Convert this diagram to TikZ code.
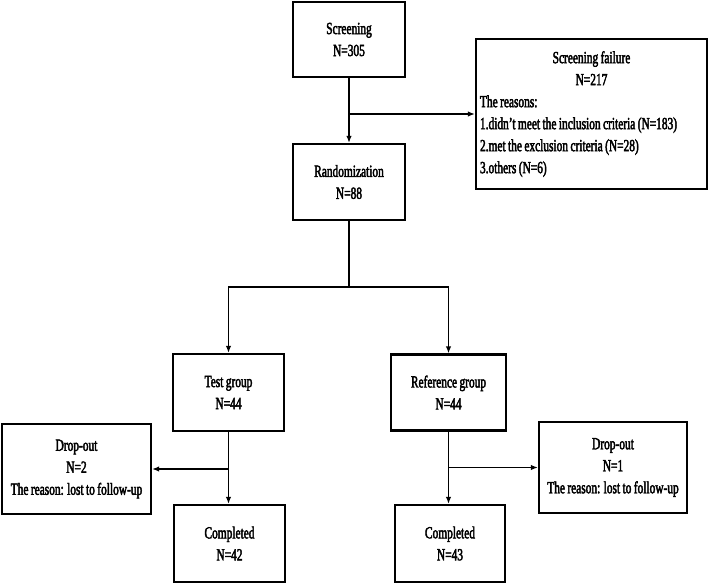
\documentclass[tikz,border=0pt]{standalone}
\usepackage{fontspec}
\setmainfont{Liberation Serif}[FakeStretch=0.67, FakeBold=2.5, WordSpace=0.85]
\usepackage{tikz}
\usetikzlibrary{arrows.meta}
\usetikzlibrary{positioning}
\tikzset{box/.style = {draw, line width = 2.2, align = center, inner sep = 2, font = \fontsize{17}{22}\selectfont}}
\tikzset{conn/.style = {line width = 1.9}}
\tikzset{arr/.style = {conn, -{Latex[length = 7, width = 5.5]}}}

\begin{document}
\begin{tikzpicture}[x = 1pt, y = -1pt]
      \useasboundingbox (0, 0) rectangle (708, 583);
      \node [box, minimum width = 112, minimum height = 75] (screen) at (349, 39.5) {Screening\\N=305};
      \node [box, minimum width = 231, minimum height = 150, text width = 223, align = flush left] (fail) at (591.5, 114)
        {{\centering Screening failure\\N=217\par}The reasons:\\1.didn't meet the inclusion criteria (N=183)\\2.met the exclusion criteria (N=28)\\3.others (N=6)};
      \node [box, minimum width = 112, minimum height = 76] (rand) at (349, 182) {Randomization\\N=88};
      \node [box, minimum width = 111, minimum height = 77] (test) at (228.5, 392.5) {Test group\\N=44};
      \node [box, minimum width = 115, minimum height = 76] (refg) at (448.5, 392.5) {Reference group\\N=44};
      \node [box, minimum width = 149, minimum height = 90] (dropL) at (76.5, 469) {Drop-out\\N=2\\The reason: lost to follow-up};
      \node [box, minimum width = 148, minimum height = 91] (dropR) at (613, 467.5) {Drop-out\\N=1\\The reason: lost to follow-up};
      \node [box, minimum width = 111, minimum height = 77] (compL) at (229.5, 543.5) {Completed\\N=42};
      \node [box, minimum width = 110, minimum height = 77] (compR) at (450, 543.5) {Completed\\N=43};

      % branch points
      \coordinate (sbr) at (screen.south |- fail.west);
      \coordinate (split) at (349, 287);
      \coordinate (tbr) at (test.south |- dropL.east);
      \coordinate (rbr) at (refg.south |- dropR.west);

      \draw [arr] (screen.south) -- (rand.north);
      \draw [arr] (sbr) -- (fail.west);
      \draw [conn] (rand.south) -- (split);
      \draw [arr] (split) -| (test.north);
      \draw [arr] (split) -| (refg.north);
      \draw [arr] (test.south) -- (test.south |- compL.north);
      \draw [arr] (tbr) -- (dropL.east);
      \draw [arr] (refg.south) -- (refg.south |- compR.north);
      \draw [arr] (rbr) -- (dropR.west);
    \end{tikzpicture}
\end{document}
